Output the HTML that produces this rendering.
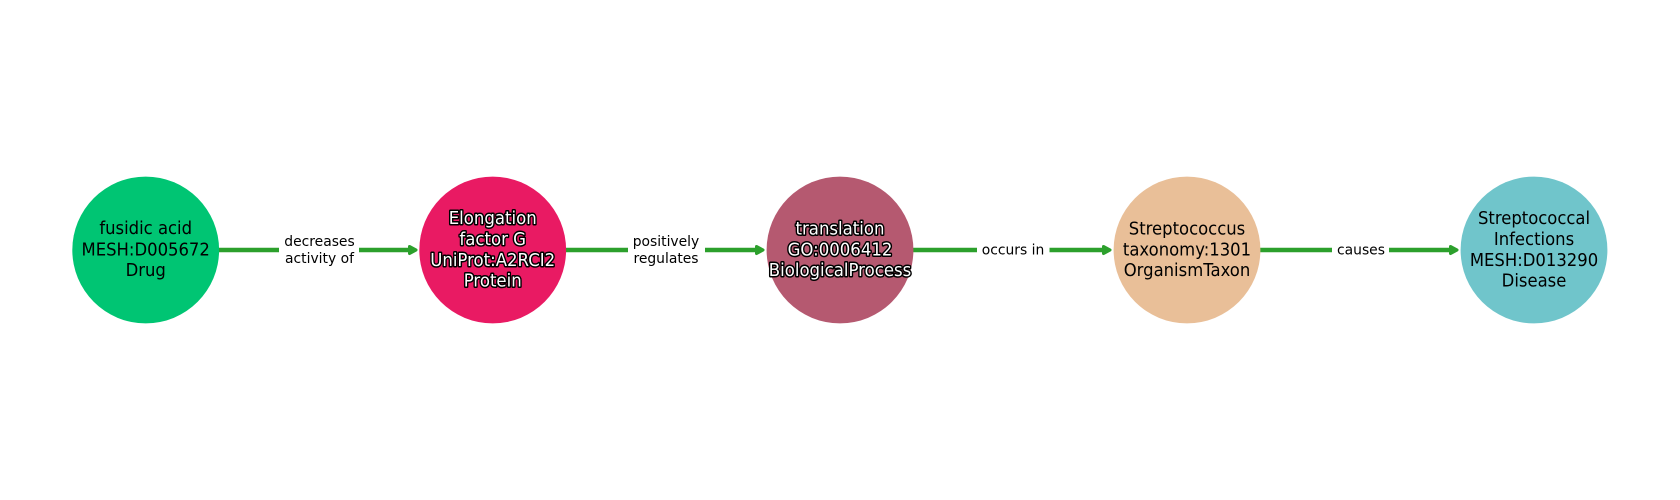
<!DOCTYPE html>
<html>
<head>
<meta charset="utf-8">
<style>
html,body{margin:0;padding:0;background:#fff;width:1680px;height:500px;overflow:hidden}
svg{display:block}
text{font-family:"DejaVu Sans",sans-serif;text-anchor:middle}
.n{font-size:17.6px;fill:#000}
.w{font-size:17.6px;fill:#fff;stroke:#000;stroke-width:3px;paint-order:stroke;stroke-linejoin:round}
.e{font-size:13.89px;fill:#000}
</style>
</head>
<body>
<svg width="1680" height="500" viewBox="0 0 1680 500" xmlns="http://www.w3.org/2000/svg">
<g stroke="#2ca02c" stroke-width="4.5" fill="none">
<line x1="219" y1="250" x2="410" y2="250"/>
<line x1="566" y1="250" x2="757" y2="250"/>
<line x1="913" y1="250" x2="1104" y2="250"/>
<line x1="1260" y1="250" x2="1451" y2="250"/>
</g>
<g fill="#2ca02c" stroke="#2ca02c" stroke-width="3" stroke-linejoin="round">
<polygon points="409.500,246.500 416,250 409.500,253.500"/>
<polygon points="756.500,246.500 763,250 756.500,253.500"/>
<polygon points="1103.500,246.500 1110,250 1103.500,253.500"/>
<polygon points="1450.500,246.500 1457,250 1450.500,253.500"/>
</g>
<rect x="279" y="226" width="80" height="48" fill="#fff"/>
<rect x="628" y="226" width="77" height="48" fill="#fff"/>
<rect x="977" y="236" width="72.500" height="28" fill="#fff"/>
<rect x="1332" y="236" width="57" height="28" fill="#fff"/>
<circle cx="145.7" cy="250" r="73.4" fill="#00c573"/>
<circle cx="492.7" cy="250" r="73.4" fill="#e91a63"/>
<circle cx="840" cy="250" r="73.4" fill="#b55970"/>
<circle cx="1187" cy="250" r="73.4" fill="#e9bf98"/>
<circle cx="1534" cy="250" r="73.4" fill="#70c5cb"/>
<g class="e">
<text x="319.5" y="246">decreases</text>
<text x="319.5" y="263">activity of</text>
<text x="666" y="246">positively</text>
<text x="666" y="263">regulates</text>
<text x="1013" y="254.500">occurs in</text>
<text x="1361" y="254.500">causes</text>
</g>
<g class="n" transform="translate(145.7,0) scale(.935,1)">
<text x="0" y="234">fusidic acid</text>
<text x="0" y="255.500">MESH:D005672</text>
<text x="0" y="276">Drug</text>
</g>
<g class="w" transform="translate(492.7,0) scale(.94,1)">
<text x="0" y="224">Elongation</text>
<text x="0" y="245">factor G</text>
<text x="0" y="266">UniProt:A2RCI2</text>
<text x="0" y="286.500">Protein</text>
</g>
<g class="w" transform="translate(840,0) scale(.94,1)">
<text x="0" y="234.500">translation</text>
<text x="0" y="255.500">GO:0006412</text>
<text x="0" y="276">BiologicalProcess</text>
</g>
<g class="n" transform="translate(1187,0) scale(.935,1)">
<text x="0" y="234.500">Streptococcus</text>
<text x="0" y="255.500">taxonomy:1301</text>
<text x="0" y="276">OrganismTaxon</text>
</g>
<g class="n" transform="translate(1534,0) scale(.935,1)">
<text x="0" y="224">Streptococcal</text>
<text x="0" y="245">Infections</text>
<text x="0" y="266">MESH:D013290</text>
<text x="0" y="286.500">Disease</text>
</g>
</svg>
</body>
</html>
